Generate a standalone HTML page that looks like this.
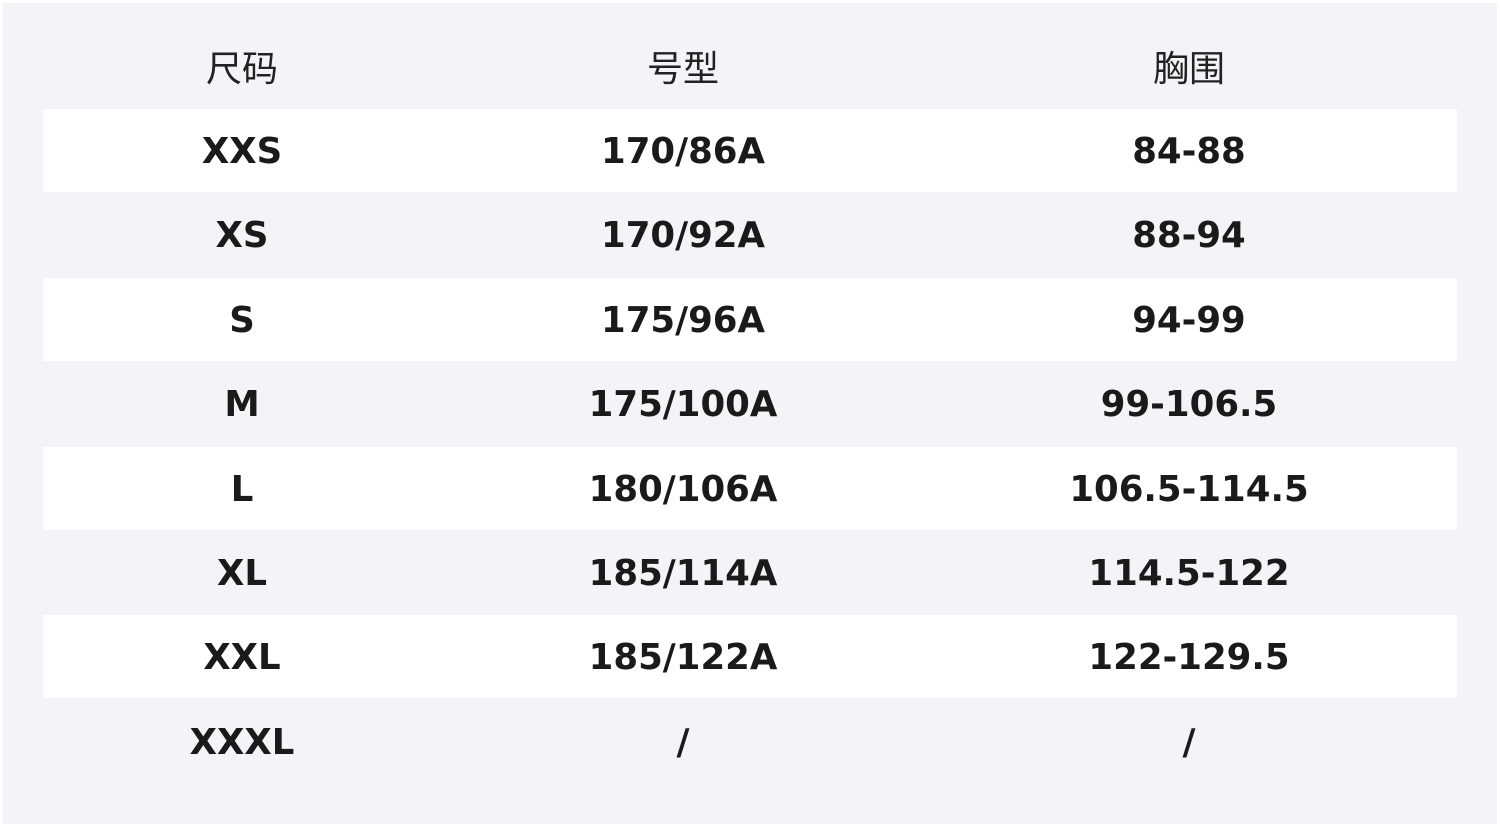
<!DOCTYPE html>
<html><head><meta charset="utf-8"><style>
html,body{margin:0;padding:0;background:#fff;}
.p{position:absolute;left:3px;top:3px;width:1494px;height:821px;background:#f4f4f8;}
.r{position:absolute;left:40px;width:1414px;height:83px;}
.w{background:#fff;}
.c{position:absolute;top:1px;height:83px;line-height:83px;text-align:center;width:400px;margin-left:-200px;font-family:"DejaVu Sans","Liberation Sans",sans-serif;font-weight:bold;font-size:35.5px;color:#1a1a1a;}
.h .c{font-family:"Liberation Sans","Noto Sans CJK SC",sans-serif;font-weight:normal;color:#222;font-size:36px;top:2px;}
</style></head><body><div class="p">
<div class="r h" style="top:22px"><div class="c" style="left:199px">尺码</div><div class="c" style="left:640px">号型</div><div class="c" style="left:1146px">胸围</div></div>
<div class="r w" style="top:106px"><div class="c" style="left:199px">XXS</div><div class="c" style="left:640px">170/86A</div><div class="c" style="left:1146px">84-88</div></div>
<div class="r" style="top:190.4px"><div class="c" style="left:199px">XS</div><div class="c" style="left:640px">170/92A</div><div class="c" style="left:1146px">88-94</div></div>
<div class="r w" style="top:274.8px"><div class="c" style="left:199px">S</div><div class="c" style="left:640px">175/96A</div><div class="c" style="left:1146px">94-99</div></div>
<div class="r" style="top:359.2px"><div class="c" style="left:199px">M</div><div class="c" style="left:640px">175/100A</div><div class="c" style="left:1146px">99-106.5</div></div>
<div class="r w" style="top:443.6px"><div class="c" style="left:199px">L</div><div class="c" style="left:640px">180/106A</div><div class="c" style="left:1146px">106.5-114.5</div></div>
<div class="r" style="top:528px"><div class="c" style="left:199px">XL</div><div class="c" style="left:640px">185/114A</div><div class="c" style="left:1146px">114.5-122</div></div>
<div class="r w" style="top:612.4px"><div class="c" style="left:199px">XXL</div><div class="c" style="left:640px">185/122A</div><div class="c" style="left:1146px">122-129.5</div></div>
<div class="r" style="top:696.8px"><div class="c" style="left:199px">XXXL</div><div class="c" style="left:640px">/</div><div class="c" style="left:1146px">/</div></div>
</div></body></html>
